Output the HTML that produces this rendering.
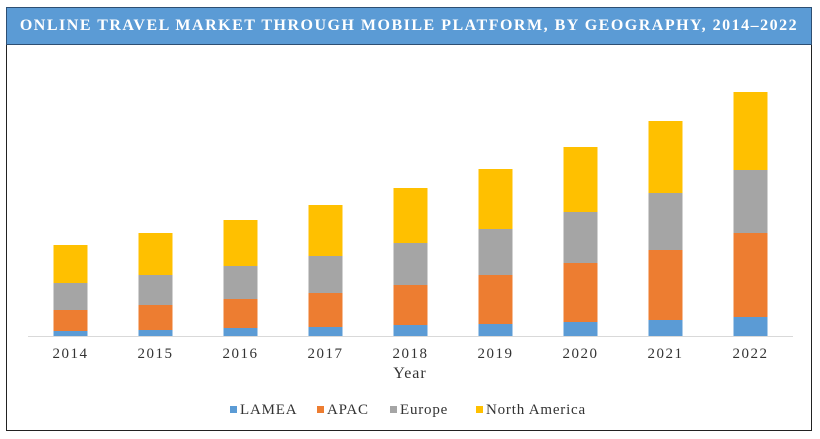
<!DOCTYPE html>
<html><head><meta charset="utf-8"><style>
body{margin:0;width:820px;height:439px;background:#fff;overflow:hidden;font-family:"Liberation Serif",serif;}
#frame{position:absolute;left:6px;top:7px;width:806px;height:424px;border:1px solid #222;box-sizing:border-box;}
#title{position:absolute;left:6px;top:7px;width:806px;height:38px;background:#5b9bd5;border:1px solid #2e4f73;box-sizing:border-box;color:#fff;font-weight:bold;font-size:16px;text-align:center;line-height:36px;letter-spacing:1.5px;white-space:nowrap;}
</style></head><body>
<div id="frame"></div>
<div id="title">ONLINE TRAVEL MARKET THROUGH MOBILE PLATFORM, BY GEOGRAPHY, 2014–2022</div>
<svg id="chart" width="820" height="439" style="position:absolute;left:0;top:0"></svg>
<script>
const years=["2014","2015","2016","2017","2018","2019","2020","2021","2022"];
const lamea=[5,6,8,9,11,12,14,16,19];
const apac=[21,25,29,34,40,49,59,70,84];
const europe=[27,30,33,37,42,46,51,57,63];
const northAmerica=[38,42,46,51,55,60,65,72,78];
const seriesNames=["LAMEA","APAC","Europe","North America"];
const colors=["#5b9bd5","#ed7d31","#a5a5a5","#ffc000"];
const series=[lamea,apac,europe,northAmerica];
const NS="http://www.w3.org/2000/svg";
const svg=document.getElementById('chart');
const baseY=336, left=28, plotW=765, yPerUnit=1;
const bw=plotW/years.length, barW=34;
const x=i=>left+bw*i+bw/2;
const y=v=>baseY-v*yPerUnit;
function mk(t,a){const e=document.createElementNS(NS,t);for(const k in a)e.setAttribute(k,a[k]);svg.appendChild(e);return e;}
const ax=mk('line',{x1:left,x2:left+plotW,y1:baseY+0.5,y2:baseY+0.5,stroke:'#d9d9d9'});


years.forEach((yr,i)=>{
  let acc=0;
  series.forEach((s,j)=>{
    const r=mk('rect',{x:x(i)-barW/2,y:y(acc+s[i]),width:barW,height:s[i]*yPerUnit,fill:colors[j]});
    
    
    acc+=s[i];
  });
  const t=mk('text',{x:x(i),y:358,'text-anchor':'middle','font-size':'15','letter-spacing':'1.5',fill:'#333','font-family':'Liberation Serif, serif'});
  t.textContent=yr;
  
  
});
const xt=mk('text',{x:410,y:378,'text-anchor':'middle','font-size':'16','letter-spacing':'1',fill:'#333','font-family':'Liberation Serif, serif'});
xt.textContent='Year';


const lx=[230,317,390,476];
seriesNames.forEach((n,j)=>{
  const r=mk('rect',{x:lx[j],y:406,width:7,height:7,fill:colors[j]});
  
  
  const t=mk('text',{x:lx[j]+10,y:414,'font-size':'15','letter-spacing':'0.8',fill:'#333','font-family':'Liberation Serif, serif'});
  t.textContent=n;
  
  
});
</script>
</body></html>
